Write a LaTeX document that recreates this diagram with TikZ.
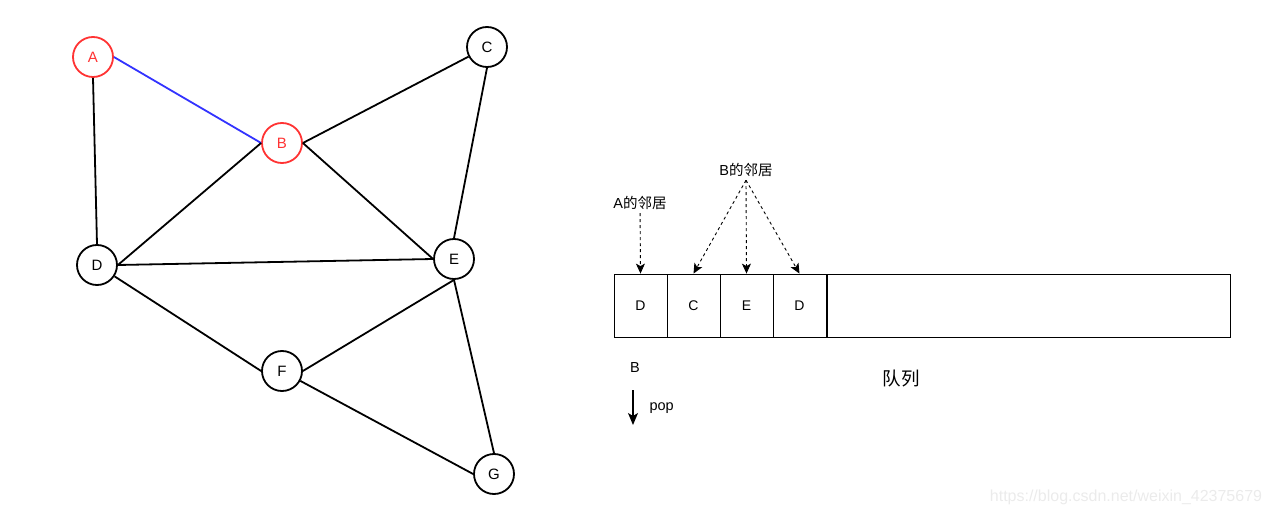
\documentclass[tikz,border=0pt]{standalone}
\usepackage{fontspec}
\setmainfont{Liberation Sans}
\newfontfamily\cjk{Noto Sans CJK SC}
\usepackage{tikz}
\usetikzlibrary{arrows.meta}

\begin{document}
\begin{tikzpicture}[x=1pt,y=-1pt,>={Stealth[length=10pt,width=9pt,inset=2.5pt]},
  vertex/.style={circle, draw, line width=1.8pt, minimum size=40pt, inner sep=0pt, font=\fontsize{15}{17}\selectfont},
  visited/.style={vertex, draw=red!80, text=red!80},
  edge/.style={line width=1.8pt},
  cell/.style={draw, line width=0.8pt, minimum width=53pt, minimum height=63pt, inner sep=0pt, font=\fontsize{14}{16}\selectfont},
  note/.style={font=\fontsize{14.5}{16}\selectfont},
  hint/.style={->, dashed, line width=0.9pt}]

\useasboundingbox (0,0) rectangle (1270,516);

\node[visited] (A) at (93,57) {A};
\node[visited] (B) at (282,143) {B};
\node[vertex] (C) at (487,47) {C};
\node[vertex] (D) at (97,265) {D};
\node[vertex] (E) at (454,259) {E};
\node[vertex] (F) at (282,371) {F};
\node[vertex] (G) at (494,474) {G};

\draw[edge, blue!80] (A.east) -- (B.west);
\draw[edge] (A.south) -- (D.north);
\draw[edge] (B.east) -- (C);
\draw[edge] (D.east) -- (B.west);
\draw[edge] (B.east) -- (E.west);
\draw[edge] (C.south) -- (E.north);
\draw[edge] (D.east) -- (E.west);
\draw[edge] (D) -- (F.west);
\draw[edge] (E.south) -- (F.east);
\draw[edge] (E.south) -- (G.north);
\draw[edge] (F) -- (G.west);

% queue
\node[cell] (q1) at (640.5,305.5) {D};
\node[cell] (q2) at (693.5,305.5) {C};
\node[cell] (q3) at (746.5,305.5) {E};
\node[cell] (q4) at (799.5,305.5) {D};
\node[draw, line width=0.8pt, minimum width=403pt, minimum height=63pt, inner sep=0pt] (rest) at (1028.5,305.5) {};

\node[note] (na) at (640,203) {A{\cjk 的邻居}};
\node[note] (nb) at (746,170) {B{\cjk 的邻居}};

\draw[hint] (na) -- (q1.north);
\draw[hint] (nb.south) -- (q2.north);
\draw[hint] (nb.south) -- (q3.north);
\draw[hint] (nb.south) -- (q4.north);

\node[note] (popped) at (635,368) {B};
\coordinate (top) at (633,390);
\coordinate (bottom) at (633,425);
\draw[-{Stealth[length=12pt,width=10pt,inset=3pt]}, line width=1.2pt] (top) -- (bottom);
\node[note, anchor=west] (pop) at (646,408) {pop};

\node[font=\fontsize{18.5}{20}\selectfont\cjk] (queue) at (901,379) {队列};

\node[font=\fontsize{16}{18}\selectfont, text=black!8] (mark) at (1126,497) {https://blog.csdn.net/weixin\_42375679};

\end{tikzpicture}
\end{document}
